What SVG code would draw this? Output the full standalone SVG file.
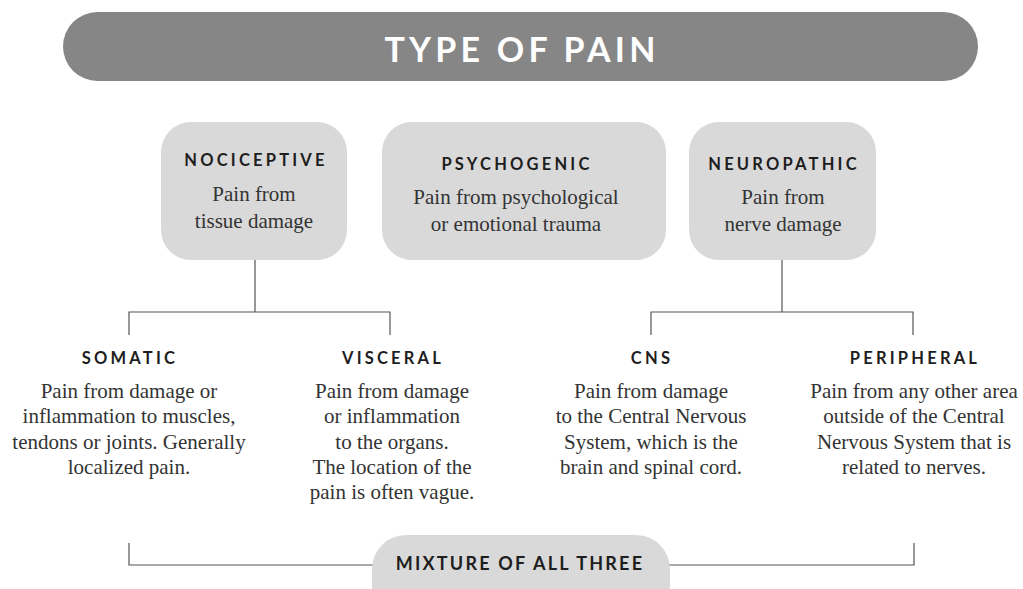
<svg xmlns="http://www.w3.org/2000/svg" width="1023" height="589" viewBox="0 0 1023 589">
<style>
.box{fill:#d9d9d9;}
.h{font-family:Lato,"Liberation Sans",sans-serif;font-weight:bold;font-size:16.5px;letter-spacing:3.2px;fill:#1e1e1e;text-anchor:middle;}
.b{font-family:"Liberation Serif",serif;font-size:21px;fill:#333;text-anchor:middle;}
.ln{fill:none;stroke:#555;stroke-width:1.2;}
</style>
<rect x="0" y="0" width="1023" height="589" fill="#fff"/>
<g id="title">
<rect x="63" y="12" width="915" height="69" rx="34.5" fill="#868686"/>
<text x="522" y="62" font-family="Lato,'Liberation Sans',sans-serif" font-weight="bold" font-size="34" letter-spacing="4.2" fill="#fff" text-anchor="middle">TYPE OF PAIN</text>
</g>
<g id="connectors">
<path class="ln" d="M255 260V312M129 335V312H390V335"/>
<path class="ln" d="M782 260V312M651 335V312H913V335"/>
<path class="ln" d="M129 543V565H380M662 565H914V543"/>
</g>
<g id="nociceptive">
<rect class="box" x="161" y="122" width="186" height="138" rx="30"/>
<text class="h" x="256" y="166">NOCICEPTIVE</text>
<text class="b" x="254" y="201">Pain from</text>
<text class="b" x="254" y="228">tissue damage</text>
</g>
<g id="psychogenic">
<rect class="box" x="382" y="122" width="284" height="138" rx="30"/>
<text class="h" x="517" y="170">PSYCHOGENIC</text>
<text class="b" x="516" y="204">Pain from psychological</text>
<text class="b" x="516" y="231">or emotional trauma</text>
</g>
<g id="neuropathic">
<rect class="box" x="689" y="122" width="187" height="138" rx="30"/>
<text class="h" x="784" y="170">NEUROPATHIC</text>
<text class="b" x="783" y="204">Pain from</text>
<text class="b" x="783" y="231">nerve damage</text>
</g>
<g id="somatic">
<text class="h" x="130" y="364">SOMATIC</text>
<text class="b" x="129" y="398">Pain from damage or</text>
<text class="b" x="129" y="423">inflammation to muscles,</text>
<text class="b" x="129" y="449">tendons or joints. Generally</text>
<text class="b" x="129" y="474">localized pain.</text>
</g>
<g id="visceral">
<text class="h" x="393" y="364">VISCERAL</text>
<text class="b" x="392" y="398">Pain from damage</text>
<text class="b" x="392" y="423">or inflammation</text>
<text class="b" x="392" y="449">to the organs.</text>
<text class="b" x="392" y="474">The location of the</text>
<text class="b" x="392" y="499">pain is often vague.</text>
</g>
<g id="cns">
<text class="h" x="652" y="364">CNS</text>
<text class="b" x="651" y="398">Pain from damage</text>
<text class="b" x="651" y="423">to the Central Nervous</text>
<text class="b" x="651" y="449">System, which is the</text>
<text class="b" x="651" y="474">brain and spinal cord.</text>
</g>
<g id="peripheral">
<text class="h" x="915" y="364">PERIPHERAL</text>
<text class="b" x="914" y="398">Pain from any other area</text>
<text class="b" x="914" y="423">outside of the Central</text>
<text class="b" x="914" y="449">Nervous System that is</text>
<text class="b" x="914" y="474">related to nerves.</text>
</g>
<g id="mixture">
<rect class="box" x="372" y="535" width="298" height="90" rx="34"/>
<text class="h" x="520" y="570" style="font-size:18px;letter-spacing:2.2px">MIXTURE OF ALL THREE</text>
</g>
</svg>
